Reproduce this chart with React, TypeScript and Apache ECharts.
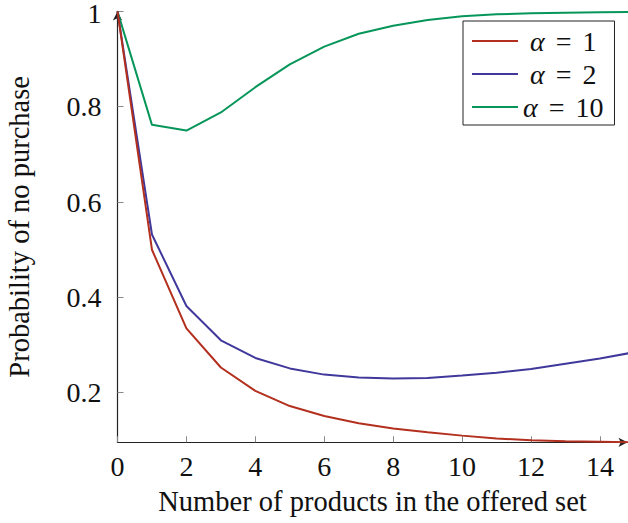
import React, { useEffect, useRef } from "react";
import * as echarts from "echarts";

const xValues = [0, 1, 2, 3, 4, 5, 6, 7, 8, 9, 10, 11, 12, 13, 14, 15];
const alpha1 = [1, 0.5, 0.335, 0.253, 0.204, 0.172, 0.151, 0.136, 0.125, 0.117, 0.11, 0.104, 0.1005, 0.098, 0.097, 0.096];
const alpha2 = [1, 0.532, 0.382, 0.31, 0.273, 0.251, 0.238, 0.232, 0.23, 0.231, 0.236, 0.242, 0.25, 0.261, 0.272, 0.285];
const alpha10 = [1, 0.762, 0.75, 0.788, 0.841, 0.889, 0.926, 0.953, 0.97, 0.982, 0.99, 0.994, 0.996, 0.997, 0.998, 0.999];
const seriesNames = ["α = 1", "α = 2", "α = 10"];
const seriesColors = ["#b32f1e", "#40389b", "#07965a"];
const xTicks = [0, 2, 4, 6, 8, 10, 12, 14];
const yTicks = [0.2, 0.4, 0.6, 0.8, 1];
const xLabel = "Number of products in the offered set";
const yLabel = "Probability of no purchase";

const FONT = "Liberation Serif";
const tickRich = {
  s: { fontFamily: FONT, fontSize: 28, lineHeight: 18, color: "#111" },
  top: { fontFamily: FONT, fontSize: 28, lineHeight: 18, color: "#111", padding: [5, 0, 0, 0] },
};

export default function App() {
  const ref = useRef<HTMLDivElement>(null);
  useEffect(() => {
    if (!ref.current) return;
    const chart = echarts.init(ref.current, null, { renderer: "svg" });
    const all = [alpha1, alpha2, alpha10];
    chart.setOption({
      animation: false,
      backgroundColor: "#fff",
      textStyle: { fontFamily: FONT, color: "#111" },
      grid: { left: 117.5, right: 0.5, top: 11.4, bottom: 80.7, containLabel: false, outerBoundsMode: "none" },
      xAxis: {
        type: "value",
        min: 0,
        max: 14.8,
        name: xLabel,
        nameLocation: "middle",
        nameGap: 45,
        nameTextStyle: { fontFamily: FONT, fontSize: 28.5, color: "#111" },
        axisLine: {
          onZero: false,
          symbol: ["none", "arrow"],
          symbolSize: [7, 9],
          lineStyle: { color: "#222", width: 1.2 },
        },
        axisTick: { customValues: xTicks, inside: true, length: 6, lineStyle: { color: "#888", width: 1 } },
        axisLabel: {
          customValues: xTicks,
          margin: 15,
          fontFamily: FONT,
          fontSize: 28,
          color: "#111",
          formatter: (v: number) => `{s|${v}}`,
          rich: tickRich,
        },
        splitLine: { show: false },
      },
      yAxis: {
        type: "value",
        min: 0.096,
        max: 1,
        name: yLabel,
        nameLocation: "middle",
        nameGap: 84,
        nameTextStyle: { fontFamily: FONT, fontSize: 28.5, color: "#111" },
        axisLine: {
          show: true,
          onZero: false,
          symbol: ["none", "arrow"],
          symbolSize: [7, 9],
          lineStyle: { color: "#222", width: 1.2 },
        },
        axisTick: { show: true, customValues: yTicks, inside: true, length: 6, lineStyle: { color: "#888", width: 1 } },
        axisLabel: {
          customValues: yTicks,
          margin: 16,
          fontFamily: FONT,
          fontSize: 28,
          color: "#111",
          formatter: (v: number) => (v === 1 ? `{top|${v}}` : `{s|${v}}`),
          rich: tickRich,
        },
        splitLine: { show: false },
      },
      legend: {
        orient: "vertical",
        left: 463,
        top: 21,
        icon: "rect",
        itemWidth: 46,
        itemHeight: 2,
        itemGap: 5,
        padding: [6, 11, 4, 9],
        borderColor: "#222",
        borderWidth: 1,
        backgroundColor: "#fff",
        data: seriesNames,
        formatter: (name: string) => {
          const v = name.split(" = ")[1];
          const lead = v.length === 1 ? "{w| }" : "";
          return `${lead}{a|α}{e| = }{t|${v}}`;
        },
        textStyle: {
          fontFamily: FONT,
          fontSize: 28,
          color: "#111",
          rich: {
            w: { fontFamily: FONT, fontSize: 28, width: 7 },
            a: { fontFamily: FONT, fontSize: 28, fontStyle: "italic", color: "#111" },
            e: { fontFamily: FONT, fontSize: 28, color: "#111", padding: [0, 4, 0, 4] },
            t: { fontFamily: FONT, fontSize: 28, color: "#111" },
          },
        },
      },
      series: all.map((vals, k) => ({
        name: seriesNames[k],
        type: "line",
        symbol: "none",
        clip: true,
        data: xValues.map((x, i) => [x, vals[i]]),
        lineStyle: { color: seriesColors[k], width: 2 },
        itemStyle: { color: seriesColors[k] },
        z: 3 - k,
      })),
    });
    return () => chart.dispose();
  }, []);
  return (
    <div
      ref={ref}
      style={{ position: "fixed", left: 0, top: 0, width: 628, height: 523, background: "#fff" }}
    />
  );
}
